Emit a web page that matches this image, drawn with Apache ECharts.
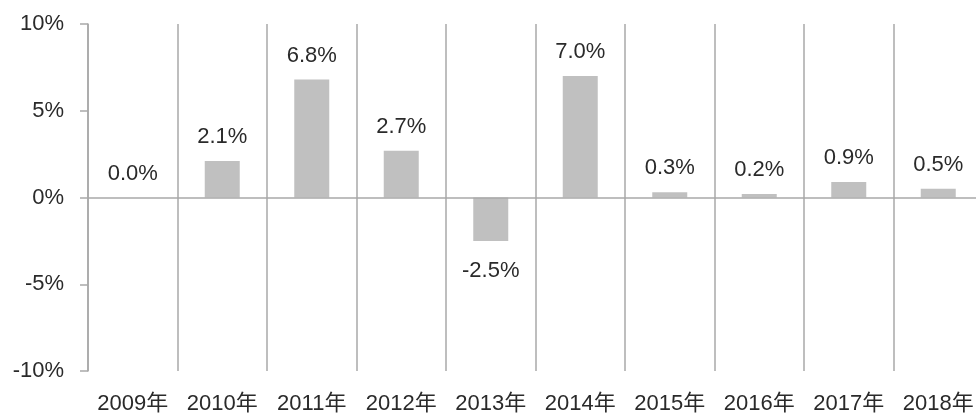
<!DOCTYPE html>
<html>
<head>
<meta charset="utf-8">
<script src="https://cdn.jsdelivr.net/npm/echarts@6/dist/echarts.min.js"></script>
<style>
  html, body { margin: 0; padding: 0; background: #fff; }
  #chart { width: 976px; height: 418px; }
</style>
</head>
<body>
<div id="chart"></div>
<script>
// 年份
var years = ['2009年', '2010年', '2011年', '2012年', '2013年', '2014年', '2015年', '2016年', '2017年', '2018年'];
// 增速 (%)
var growth = [0.0, 2.1, 6.8, 2.7, -2.5, 7.0, 0.3, 0.2, 0.9, 0.5];
// y轴刻度
var yMin = -10, yMax = 10, yStep = 5;

var FONT = '"Liberation Sans", Arial, "Noto Sans CJK SC", sans-serif';
var lineGray = '#a9a9a9';

var chart = echarts.init(document.getElementById('chart'));

var option = {
  animation: false,
  // 最后一列略超出画布右侧
  grid: { left: 88, width: 895, top: 24, bottom: 47, outerBoundsMode: 'none', containLabel: false },
  xAxis: {
    type: 'category',
    data: years,
    axisLine: { show: false, onZero: false },
    axisTick: { show: false },
    axisLabel: { color: '#2a2a2a', fontSize: 22, fontFamily: FONT, margin: 22, interval: 0 },
    splitLine: { show: true, lineStyle: { color: lineGray, width: 1.5 } }
  },
  yAxis: {
    type: 'value',
    min: yMin, max: yMax, interval: yStep,
    axisLine: { show: true, lineStyle: { color: lineGray, width: 1.5 } },
    axisTick: { show: true, length: 8, lineStyle: { color: lineGray, width: 1.5 } },
    axisLabel: { color: '#2a2a2a', fontSize: 22, fontFamily: FONT, margin: 24, formatter: '{value}%' },
    splitLine: { show: false }
  },
  series: [{
    type: 'bar',
    barWidth: 35,
    itemStyle: { color: '#c0c0c0' },
    data: growth.map(function (v) {
      return {
        value: v,
        label: v < 0 ? { position: 'bottom', distance: 19 } : { position: 'top', distance: 13 }
      };
    }),
    label: {
      show: true,
      color: '#2a2a2a',
      fontSize: 22,
      fontFamily: FONT,
      formatter: function (p) { return p.value.toFixed(1) + '%'; }
    },
    markLine: {
      silent: true,
      symbol: 'none',
      label: { show: false },
      lineStyle: { color: lineGray, width: 1.5, type: 'solid' },
      data: [{ yAxis: 0 }]
    }
  }]
};

chart.setOption(option);
</script>
</body>
</html>
